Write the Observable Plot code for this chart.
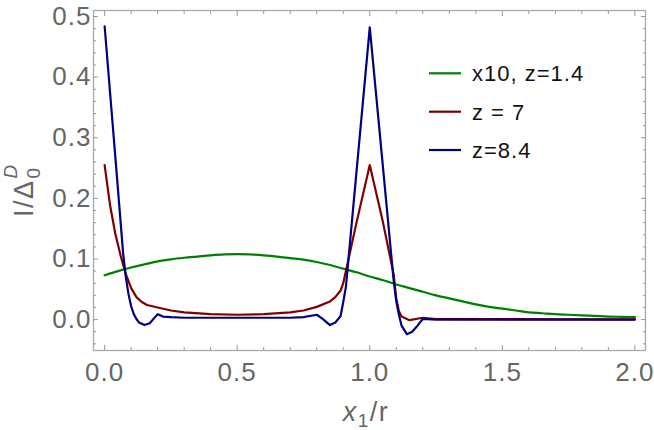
<!DOCTYPE html>
<html><head><meta charset="utf-8">
<script src="https://cdn.jsdelivr.net/npm/d3@7"></script>
<script src="https://cdn.jsdelivr.net/npm/@observablehq/plot@0.6"></script>
<style>
body{margin:0;background:#fff}
svg{display:block}
</style>
</head><body><div id="chart"></div>
<script>
// ---- data ----
const greenX = [0, 0.05, 0.1, 0.15, 0.2, 0.25, 0.3, 0.35, 0.4, 0.45, 0.5, 0.55, 0.6, 0.65, 0.7, 0.75, 0.8, 0.85, 0.9, 0.95, 1.0, 1.05, 1.1, 1.15, 1.2, 1.25, 1.3, 1.35, 1.4, 1.45, 1.5, 1.55, 1.6, 1.65, 1.7, 1.75, 1.8, 1.85, 1.9, 1.95, 2.0];
const greenY = [0.073, 0.080, 0.086, 0.091, 0.096, 0.0995, 0.102, 0.104, 0.106, 0.1075, 0.108, 0.1075, 0.106, 0.104, 0.1015, 0.099, 0.095, 0.090, 0.084, 0.078, 0.071, 0.065, 0.058, 0.052, 0.046, 0.040, 0.035, 0.030, 0.025, 0.021, 0.018, 0.015, 0.012, 0.0105, 0.009, 0.008, 0.007, 0.006, 0.005, 0.0045, 0.004];

const redX = [0, 0.02, 0.04, 0.06, 0.08, 0.1, 0.12, 0.14, 0.16, 0.18, 0.2, 0.25, 0.3, 0.4, 0.5, 0.6, 0.7, 0.75, 0.8, 0.85, 0.87, 0.89, 0.9, 0.91, 0.95, 1.0, 1.05, 1.09, 1.1, 1.11, 1.12, 1.15, 1.2, 1.25, 1.5, 2.0];
const redY = [0.255, 0.19, 0.142, 0.106, 0.075, 0.052, 0.037, 0.029, 0.024, 0.022, 0.020, 0.015, 0.012, 0.009, 0.008, 0.009, 0.012, 0.015, 0.021, 0.030, 0.037, 0.048, 0.060, 0.080, 0.160, 0.255, 0.160, 0.075, 0.035, 0.014, 0.005, -0.001, 0.003, 0.001, 0.0008, 0.0005];

const blueX = [0, 0.04, 0.07, 0.08, 0.09, 0.1, 0.11, 0.12, 0.13, 0.15, 0.17, 0.2, 0.22, 0.25, 0.3, 0.5, 0.7, 0.75, 0.8, 0.82, 0.85, 0.87, 0.89, 0.9, 0.91, 1.0, 1.09, 1.1, 1.11, 1.12, 1.14, 1.16, 1.18, 1.2, 1.25, 1.5, 2.0];
const blueY = [0.484, 0.27, 0.108, 0.07, 0.042, 0.022, 0.009, 0.001, -0.005, -0.009, -0.006, 0.009, 0.005, 0.004, 0.003, 0.003, 0.003, 0.004, 0.008, 0.002, -0.009, -0.005, 0.006, 0.029, 0.054, 0.482, 0.065, 0.030, 0.008, -0.010, -0.024, -0.020, -0.010, 0.001, 0.0, 0.0, 0.0];

const seriesNames = ["x10, z=1.4", "z = 7", "z=8.4"];
const seriesColors = ["#008000", "#800000", "#000080"];

const xMajor = [0, 0.5, 1, 1.5, 2];
const xTickLabels = ["0.0", "0.5", "1.0", "1.5", "2.0"];
const xMinor = [0.1, 0.2, 0.3, 0.4, 0.6, 0.7, 0.8, 0.9, 1.1, 1.2, 1.3, 1.4, 1.6, 1.7, 1.8, 1.9];
const yMajor = [0, 0.1, 0.2, 0.3, 0.4, 0.5];
const yTickLabels = ["0.0", "0.1", "0.2", "0.3", "0.4", "0.5"];
const yMinor = [-0.04, -0.02, 0.02, 0.04, 0.06, 0.08, 0.12, 0.14, 0.16, 0.18, 0.22, 0.24, 0.26, 0.28, 0.32, 0.34, 0.36, 0.38, 0.42, 0.44, 0.46, 0.48];

// ---- build tables ----
const toRows = (xs, ys, name) => xs.map((x, i) => ({series: name, x, y: ys[i]}));
const greenRows = toRows(greenX, greenY, seriesNames[0]);
const peakRows = [...toRows(redX, redY, seriesNames[1]), ...toRows(blueX, blueY, seriesNames[2])];

const tickGray = "#9a9a9a";
const textGray = "#666666";
const font = "'Liberation Sans', Arial, sans-serif";

const plot = Plot.plot({
  width: 654,
  height: 430,
  marginLeft: 93,
  marginRight: 9,
  marginTop: 10,
  marginBottom: 80,
  x: {domain: [-0.042, 2.04]},
  y: {domain: [-0.051, 0.51]},
  color: {domain: seriesNames, range: seriesColors},
  style: {fontFamily: font, fontSize: "26px", background: "white", overflow: "visible"},
  marks: [
    Plot.frame({stroke: "#aaaaaa", strokeWidth: 1.3}),
    // bottom
    Plot.axisX(xMajor, {anchor: "bottom", tickSize: -5, tickPadding: 17, stroke: tickGray, fill: textGray, tickFormat: d => xTickLabels[xMajor.indexOf(d)], label: null}),
    Plot.axisX(xMinor, {anchor: "bottom", tickSize: -3, stroke: tickGray, tickFormat: () => "", label: null}),
    // top
    Plot.axisX(xMajor, {anchor: "top", tickSize: -5, stroke: tickGray, tickFormat: () => "", label: null}),
    Plot.axisX(xMinor, {anchor: "top", tickSize: -3, stroke: tickGray, tickFormat: () => "", label: null}),
    // left
    Plot.axisY(yMajor, {anchor: "left", tickSize: -5, tickPadding: 7, stroke: tickGray, fill: textGray, tickFormat: d => yTickLabels[yMajor.indexOf(d)], label: null}),
    Plot.axisY(yMinor, {anchor: "left", tickSize: -3, stroke: tickGray, tickFormat: () => "", label: null}),
    // right
    Plot.axisY(yMajor, {anchor: "right", tickSize: -5, stroke: tickGray, tickFormat: () => "", label: null}),
    Plot.axisY(yMinor, {anchor: "right", tickSize: -3, stroke: tickGray, tickFormat: () => "", label: null}),
    Plot.line(greenRows, {x: "x", y: "y", z: "series", stroke: "series", strokeWidth: 2.2, curve: "monotone-x"}),
    Plot.line(peakRows, {x: "x", y: "y", z: "series", stroke: "series", strokeWidth: 2.2, curve: "linear"})
  ]
});

document.getElementById("chart").appendChild(plot);

const svg = d3.select(plot);
// slight letter spacing on tick labels to mimic the wider rendering
svg.selectAll("g[aria-label$='tick label'] text").style("letter-spacing", "1px");

// y label: I/Δ_0^D
const yl = svg.append("text")
  .attr("transform", "translate(33,217) rotate(-90)")
  .attr("fill", textGray)
  .attr("font-family", font)
  .attr("font-size", 27)
  .style("letter-spacing", "1.5px")
  .attr("text-anchor", "start");
yl.append("tspan").text("I/Δ");
yl.append("tspan").attr("font-size", 19).attr("dy", 7).attr("dx", 1).text("0");
yl.append("tspan").attr("font-size", 19).attr("font-style", "italic").attr("dx", -12).attr("dy", -23).text("D");

// x label: x_1/r
const xl = svg.append("text")
  .attr("x", 366)
  .attr("y", 421)
  .attr("fill", textGray)
  .attr("font-family", font)
  .attr("font-size", 27)
  .style("letter-spacing", "1.5px")
  .attr("text-anchor", "middle");
xl.append("tspan").attr("font-style", "italic").text("x");
xl.append("tspan").attr("font-size", 19).attr("dy", 6).text("1");
xl.append("tspan").attr("dy", -6).text("/r");

// legend
const legendY = [73.3, 111.7, 150];
seriesNames.forEach((name, i) => {
  const g = svg.append("g");
  g.append("line").attr("x1", 429).attr("x2", 461).attr("y1", legendY[i]).attr("y2", legendY[i])
    .attr("stroke", seriesColors[i]).attr("stroke-width", 2.2);
  g.append("text").attr("x", 472).attr("y", legendY[i]).attr("dy", "0.36em")
    .attr("text-anchor", "start")
    .attr("font-family", font).attr("font-size", 22).style("letter-spacing", "1px")
    .attr("fill", "#111").text(name);
});
</script>
</body></html>
